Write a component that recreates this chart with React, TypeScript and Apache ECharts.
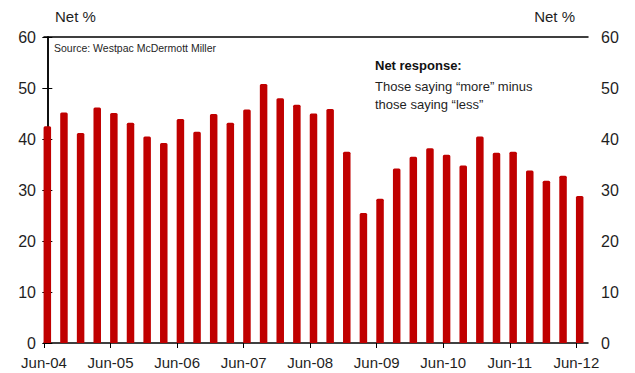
import React, { useEffect, useRef } from "react";
import * as echarts from "echarts";

// Quarterly net response, Jun-04 .. Jun-12
const quarters: string[] = [
  "Jun-04", "Sep-04", "Dec-04", "Mar-05",
  "Jun-05", "Sep-05", "Dec-05", "Mar-06",
  "Jun-06", "Sep-06", "Dec-06", "Mar-07",
  "Jun-07", "Sep-07", "Dec-07", "Mar-08",
  "Jun-08", "Sep-08", "Dec-08", "Mar-09",
  "Jun-09", "Sep-09", "Dec-09", "Mar-10",
  "Jun-10", "Sep-10", "Dec-10", "Mar-11",
  "Jun-11", "Sep-11", "Dec-11", "Mar-12",
  "Jun-12",
];

const netValues: number[] = [
  42.5, 45.2, 41.2, 46.2, 45.1, 43.2, 40.5, 39.2,
  43.9, 41.4, 44.9, 43.2, 45.8, 50.8, 48.0, 46.7,
  45.0, 45.9, 37.5, 25.5, 28.3, 34.2, 36.5, 38.2,
  36.9, 34.8, 40.5, 37.3, 37.5, 33.8, 31.8, 32.8,
  28.8,
];

const xTickLabels: string[] = [
  "Jun-04", "Jun-05", "Jun-06", "Jun-07", "Jun-08",
  "Jun-09", "Jun-10", "Jun-11", "Jun-12",
];

const yTicks: number[] = [0, 10, 20, 30, 40, 50, 60];

const X_MIN = -0.2;
const X_MAX = 32.5;
const FONT = "'Liberation Sans', Arial, sans-serif";
const TEXT = "#1f1f1f";
const RED = "#c00000";

export default function App() {
  const ref = useRef<HTMLDivElement>(null);

  useEffect(() => {
    if (!ref.current) return;
    const chart = echarts.init(ref.current, undefined, { renderer: "svg" });

    const yAxisBase = {
      type: "value" as const,
      min: yTicks[0],
      max: yTicks[yTicks.length - 1],
      interval: 10,
      splitLine: { show: false },
      axisLine: { show: true, lineStyle: { color: "#000", width: 1.5 } },
      axisTick: { show: true, length: 5, lineStyle: { color: "#000", width: 1 } },
      axisLabel: { color: TEXT, fontSize: 16, fontFamily: FONT },
    };

    chart.setOption({
      animation: false,
      backgroundColor: "#fff",
      grid: { left: 44, right: 47, top: 37, bottom: 30, containLabel: false },
      xAxis: [
        {
          type: "value",
          min: X_MIN,
          max: X_MAX,
          interval: 4,
          position: "bottom",
          splitLine: { show: false },
          axisLine: { show: true, onZero: false, lineStyle: { color: "#000", width: 1.5 } },
          axisTick: { show: true, length: 5, lineStyle: { color: "#000", width: 1 } },
          axisLabel: {
            color: TEXT,
            fontSize: 15,
            fontFamily: FONT,
            margin: 12,
            showMaxLabel: false,
            formatter: (v: number) => {
              const k = (v - X_MIN) / 4;
              const r = Math.round(k);
              if (Math.abs(k - r) > 0.01) return "";
              return xTickLabels[r] ?? "";
            },
          },
        },
        {
          type: "value",
          min: X_MIN,
          max: X_MAX,
          position: "top",
          splitLine: { show: false },
          axisLine: { show: true, onZero: false, lineStyle: { color: "#000", width: 1.5 } },
          axisTick: { show: false },
          axisLabel: { show: false },
        },
      ],
      yAxis: [
        { ...yAxisBase, position: "left", axisLabel: { ...yAxisBase.axisLabel, margin: 8 } },
        { ...yAxisBase, position: "right", axisLabel: { ...yAxisBase.axisLabel, margin: 13 } },
      ],
      series: [
        {
          type: "bar",
          xAxisIndex: 0,
          yAxisIndex: 0,
          barWidth: 7.5,
          itemStyle: { color: RED, borderRadius: [1.5, 1.5, 0, 0] },
          data: netValues.map((v, i) => [i, v]),
        },
      ],
      graphic: [
        {
          type: "text",
          left: 55,
          top: 9,
          style: { text: "Net %", fill: TEXT, font: `15px ${FONT}` },
        },
        {
          type: "text",
          right: 60,
          top: 9,
          style: { text: "Net %", fill: TEXT, font: `15px ${FONT}` },
        },
        {
          type: "text",
          left: 54,
          top: 42,
          style: { text: "Source: Westpac McDermott Miller", fill: TEXT, font: `10.5px ${FONT}` },
        },
        {
          type: "text",
          left: 375,
          top: 59,
          style: { text: "Net response:", fill: "#111", font: `bold 13px ${FONT}` },
        },
        {
          type: "text",
          left: 375,
          top: 77,
          style: {
            text: "Those saying \u201cmore\u201d minus\nthose saying \u201cless\u201d",
            fill: TEXT,
            font: `13px ${FONT}`,
            lineHeight: 18,
          },
        },
      ],
    });

    return () => chart.dispose();
  }, []);

  return <div ref={ref} style={{ width: 635, height: 373, position: "absolute", left: 0, top: 0 }} />;
}
